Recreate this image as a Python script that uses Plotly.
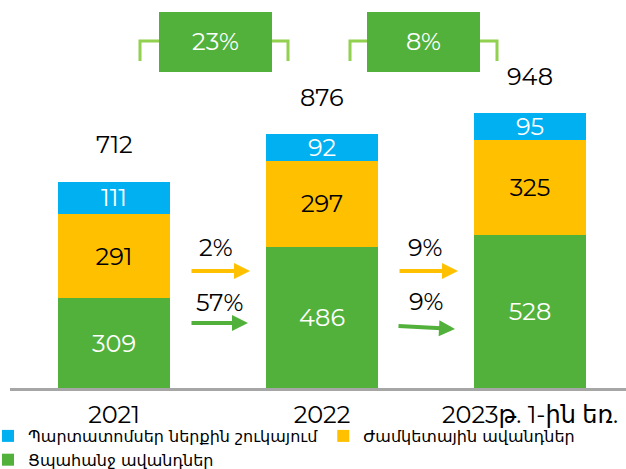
import plotly.graph_objects as go

categories = ["2021", "2022", "2023թ. 1-ին եռ."]
demand = [309, 486, 528]
term = [291, 297, 325]
bonds = [111, 92, 95]
totals = [712, 876, 948]
total_growth = ["23%", "8%"]
term_growth = ["2%", "9%"]
demand_growth = ["57%", "9%"]

names = ["Ցպահանջ ավանդներ", "Ժամկետային ավանդներ", "Պարտատոմսեր ներքին շուկայում"]
GREEN = "#52B13A"
ORANGE = "#FFC000"
BLUE = "#00B0F0"
LIGHTGREEN = "#92D050"
FONT = "Montserrat, Open Sans, DejaVu Sans, sans-serif"
FS = 24

W, H = 626, 469
L, R, T, B = 10, 0, 0, 81
PW, PH = W - L - R, H - T - B
YMAX = PH / 0.2903


def px(x):
    return (x - L) / PW


def py(y):
    return (H - B - y) / PH


fig = go.Figure()
series = [(demand, GREEN, "white", "a", 2), (term, ORANGE, "black", "b", 3), (bonds, BLUE, "white", "a", 1)]
for (vals, col, tcol, grp, rank), nm in zip(series, names):
    fig.add_trace(go.Bar(
        x=categories, y=vals, name=nm, marker=dict(color=col, line=dict(width=0)),
        text=[str(v) for v in vals], textposition="inside", insidetextanchor="middle",
        textangle=0, constraintext="none",
        textfont=dict(color=tcol, size=FS, family=FONT), width=0.54,
        cliponaxis=False, legendgroup=grp, legendrank=rank,
    ))

annotations = []
for i, t in enumerate(totals):
    annotations.append(dict(x=i, y=t, xref="x", yref="y", text=str(t), showarrow=False,
                            xanchor="center", yanchor="bottom", yshift=20,
                            font=dict(size=FS, color="black", family=FONT)))

# top growth boxes with brackets
shapes = []
boxes = [(159, 272, 140, 288), (367, 480, 350, 497)]
for (x0, x1, bl, br), g in zip(boxes, total_growth):
    shapes.append(dict(type="path", xref="paper", yref="paper",
                       path=f"M{px(bl)},{py(61)} L{px(bl)},{py(41)} L{px(br)},{py(41)} L{px(br)},{py(61)}",
                       line=dict(color=LIGHTGREEN, width=3)))
    shapes.append(dict(type="rect", xref="paper", yref="paper", x0=px(x0), x1=px(x1),
                       y0=py(72), y1=py(12), fillcolor=GREEN, line=dict(width=0)))
    annotations.append(dict(x=px((x0 + x1) / 2), y=py(41.5), xref="paper", yref="paper",
                            xanchor="center", yanchor="middle",
                            text=g, showarrow=False, font=dict(size=FS, color="white", family=FONT)))

# growth arrows between bars
arrow_sets = [
    (term_growth, ORANGE, [(190, 250, 271, 271), (398, 458, 271, 271)], [(216, 248), (425, 248)]),
    (demand_growth, GREEN, [(190, 248, 323, 323), (397, 455, 326, 329)], [(219, 302), (426, 301)]),
]
for labels, col, arrows, pos in arrow_sets:
    for lab, (xt, xh, yt, yh), (lx, ly) in zip(labels, arrows, pos):
        annotations.append(dict(x=px(xh), y=py(yh), xref="paper", yref="paper",
                                ax=xt - xh, ay=yt - yh, axref="pixel", ayref="pixel",
                                showarrow=True, arrowhead=2, arrowsize=0.8, arrowwidth=4,
                                arrowcolor=col, text=""))
        annotations.append(dict(x=px(lx), y=py(ly), xref="paper", yref="paper", text=lab,
                                xanchor="center", yanchor="middle", showarrow=False,
                                font=dict(size=FS, color="black", family=FONT)))

fig.update_layout(
    width=W, height=H, margin=dict(l=L, r=R, t=T, b=B, autoexpand=False),
    barmode="stack", plot_bgcolor="white", paper_bgcolor="white",
    font=dict(family=FONT, color="black"),
    showlegend=True,
    legend=dict(orientation="h", x=px(-12), xanchor="left", y=py(419), yanchor="top",
                traceorder="grouped", font=dict(size=16, family="DejaVu Sans, sans-serif"),
                itemclick=False, tracegroupgap=0, bgcolor="rgba(0,0,0,0)"),
    xaxis=dict(range=[-0.5, PW / 208 - 0.5], showline=True, linecolor="#A6A6A6", linewidth=3,
               ticks="", tickfont=dict(size=FS, color="black", family=FONT), showgrid=False,
               fixedrange=True, ticklabelstandoff=3),
    yaxis=dict(range=[0, YMAX], visible=False, showgrid=False, fixedrange=True),
    shapes=shapes, annotations=annotations,
)

fig.write_html("out.html", config={"displayModeBar": False},
               post_script="document.body.style.margin='0px';")
